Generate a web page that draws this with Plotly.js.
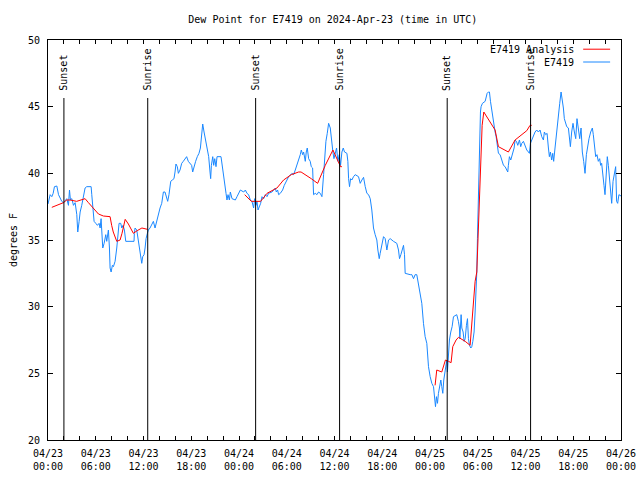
<!DOCTYPE html>
<html>
<head>
<meta charset="utf-8">
<script src="https://cdn.plot.ly/plotly-3.0.1.min.js"></script>
<style>html,body{margin:0;padding:0;background:#fff;}#chart{width:640px;height:480px;}</style>
</head>
<body>
<div id="chart"></div>
<script>
// Hours after 2024-04-23 00:00 UTC
var obsHours = [0,0.27,0.48,0.65,0.81,1.11,1.32,1.52,1.73,1.94,2.15,2.36,2.57,2.7,2.82,2.99,3.2,3.41,3.62,3.74,3.91,4.04,4.24,4.45,4.66,4.87,5.42,5.5,5.62,5.79,6.0,6.21,6.42,6.55,6.67,6.75,6.88,7.05,7.26,7.38,7.59,7.72,7.8,7.93,8.09,8.22,8.43,8.64,8.76,8.93,9.14,9.27,9.43,9.6,9.77,10.81,10.85,10.94,11.15,11.36,11.57,11.78,11.9,12.07,12.2,12.32,12.49,12.61,12.82,13.03,13.24,13.45,13.66,13.87,14.08,14.29,14.5,14.7,14.83,15.04,15.2,15.42,15.62,15.83,15.96,16.08,16.25,16.38,16.59,16.8,17.0,17.2,17.42,17.63,17.84,18.05,18.18,18.34,18.55,18.76,18.97,
19.15,19.36,19.44,19.61,19.78,19.98,20.19,20.36,20.44,20.53,20.7,20.82,20.95,21.11,21.24,21.74,21.87,22.03,22.2,22.37,22.49,22.62,22.79,22.91,23.12,23.54,23.75,23.96,24.17,24.59,24.8,25.0,25.21,25.42,25.63,25.84,25.97,26.13,26.26,26.39,26.55,26.72,26.89,27.1,27.31,27.52,27.72,28.14,28.56,28.69,28.85,28.98,29.19,29.48,29.69,29.9,30.07,30.24,30.65,30.86,31.07,31.28,31.49,31.7,31.83,32.0,32.12,32.24,32.33,32.45,32.58,32.75,32.95,33.08,33.25,33.37,33.58,33.79,34.0,34.21,34.42,34.63,34.75,34.92,35.09,35.26,35.47,35.59,35.67,35.8,35.93,36.09,36.26,36.43,36.6,36.76,36.93,37.1,37.26,
37.56,37.68,37.77,37.89,38.02,38.18,38.39,38.6,39.02,39.23,39.44,39.65,39.86,40.07,40.28,40.49,40.69,40.9,41.11,41.32,41.45,41.62,41.74,41.95,42.16,42.37,42.58,42.79,43.0,43.41,43.83,44.04,44.17,44.34,44.5,44.67,44.8,44.88,45.51,45.72,45.93,46.13,46.34,46.55,46.76,46.97,47.18,47.39,47.6,47.81,48.02,48.23,48.44,48.56,48.69,48.81,48.94,49.06,49.19,49.36,49.48,49.61,49.73,49.86,49.98,50.11,50.19,50.32,50.44,50.61,50.78,50.95,51.36,51.57,51.7,
51.75,51.91,52.0,52.16,52.29,52.42,52.58,52.71,52.83,52.96,53.13,53.25,53.38,53.54,53.67,53.8,53.88,53.96,54.05,54.09,54.17,54.26,54.34,54.42,54.59,54.93,55.05,55.18,55.34,55.47,55.6,55.76,55.89,56.01,56.18,56.31,56.47,56.6,56.81,57.02,57.23,57.44,57.65,57.77,57.85,57.98,58.15,58.36,58.57,58.69,58.86,59.03,59.24,59.4,59.53,59.74,59.95,60.16,60.37,60.49,60.62,60.78,60.99,61.2,61.41,61.62,61.83,62.04,62.25,62.37,62.54,62.71,62.88,63.0,63.13,63.29,63.42,63.54,63.71,63.84,63.96,64.13,64.3,64.47,64.63,64.76,64.88,65.01,65.18,65.39,65.51,65.64,65.8,65.97,66.14,66.31,66.47,66.64,66.81,66.98,67.14,67.31,67.48,67.65,67.81,67.98,68.19,68.4,68.52,68.65,68.82,68.98,69.15,69.32,69.44,69.57,69.74,69.86,69.99,70.11,70.28,70.41,70.53,70.7,70.83,71.0,71.16,71.33,71.45,71.58,71.74,72.0];
var obsValues = [37.7,38.4,38.25,38.5,39.0,39.05,38.4,38.1,37.9,37.8,38.0,38.1,37.6,38.75,38.0,38.1,37.6,37.8,36.9,35.6,36.4,37.1,37.6,38.4,38.9,39.0,39.0,38.4,37.4,36.4,36.25,36.1,36.25,35.9,36.6,35.6,34.4,34.75,35.4,34.9,35.75,34.4,32.9,32.6,33.1,33.0,33.4,34.4,35.0,36.25,36.25,35.9,36.1,35.75,34.9,34.9,35.5,35.9,35.75,35.0,34.1,33.25,33.75,33.9,34.4,35.1,35.5,35.75,35.9,36.1,36.4,35.9,36.4,37.1,37.4,37.75,38.6,38.6,38.25,37.9,38.4,39.4,39.5,39.6,40.1,40.7,40.5,40.0,40.25,40.75,40.9,41.1,41.25,40.9,40.7,40.6,40.1,40.5,40.9,41.25,41.5,
41.9,43.25,43.7,43.1,42.5,41.9,41.25,40.1,39.6,40.6,41.25,40.6,41.1,40.5,41.25,41.25,40.6,39.9,39.1,38.5,38.0,38.4,38.0,38.6,38.1,38.0,38.25,38.5,38.75,38.6,38.75,38.5,38.4,38.0,37.9,37.4,38.1,37.6,37.9,37.25,37.5,37.75,38.25,38.1,38.4,38.25,38.5,38.6,38.9,38.6,38.75,38.4,38.5,38.75,39.1,39.4,39.6,39.75,40.0,39.9,40.25,40.6,41.1,41.4,41.75,41.4,41.6,41.0,40.9,41.6,41.9,41.1,40.9,40.5,40.4,38.4,38.5,38.4,38.6,38.5,38.25,39.9,41.4,42.4,43.0,43.75,43.4,42.6,42.1,41.6,41.1,41.6,41.9,40.9,41.4,40.6,41.6,41.9,41.6,
41.5,40.9,39.6,39.0,39.6,39.5,39.75,39.9,39.75,39.25,39.5,39.7,39.0,38.5,38.4,38.1,37.25,35.9,35.4,35.0,34.25,33.6,34.0,34.75,35.25,35.1,34.25,35.0,35.1,34.9,34.75,34.25,33.6,33.9,34.25,34.6,33.9,32.5,32.4,32.4,32.1,32.4,32.4,31.75,31.0,30.25,28.75,27.75,27.25,25.5,24.75,24.25,24.0,23.4,22.5,23.25,22.75,23.5,24.1,24.5,24.0,23.5,24.5,25.0,25.5,26.0,25.1,26.5,27.5,28.1,28.5,29.25,29.4,28.9,28.4,
27.6,29.4,28.4,28.1,27.4,27.6,28.6,29.1,27.6,27.1,26.9,27.0,27.4,28.1,29.6,30.9,32.6,35.1,37.6,39.1,41.6,43.6,44.6,45.0,45.25,45.4,45.75,46.0,46.1,46.1,45.4,44.75,44.1,43.5,43.1,42.75,42.1,41.5,41.4,41.0,40.6,40.5,40.25,40.1,40.6,41.25,41.0,41.4,41.9,42.5,42.4,42.1,42.5,42.0,42.25,42.4,42.1,41.75,41.6,41.5,42.25,42.5,42.7,43.1,43.25,43.1,43.25,42.75,42.5,43.1,42.9,43.0,41.9,41.25,41.6,41.0,41.5,40.9,41.9,42.75,43.6,44.4,45.25,46.1,45.6,44.9,44.1,43.75,43.5,43.4,42.9,42.0,43.1,43.75,43.1,42.6,44.1,43.25,42.6,43.4,41.6,40.9,40.0,41.4,42.1,42.6,43.1,43.4,42.9,42.1,41.25,41.4,40.9,41.1,40.6,40.75,40.0,39.1,38.4,39.9,41.25,40.6,39.9,38.4,37.75,39.4,40.1,40.5,37.9,37.75,38.4,38.3];

var anaHours = [0.48,0.9,1.3,1.94,2.36,2.78,3.6,4.24,4.66,5.08,5.5,5.9,6.34,6.96,7.8,8.0,8.2,8.64,9.06,9.3,9.7,10.1,10.73,11.2,11.8,12.5,
18.0,
24.71,25.55,26.1,26.72,27.52,28.77,29.6,30.57,31.49,31.8,33.08,33.88,34.84,35.8,36.76,36.93,
42.0,
48.64,48.85,49.48,49.82,49.94,50.32,50.65,50.86,51.28,51.58,52.42,53.04,53.25,53.67,53.88,54.09,54.3,54.55,54.76,55.76,56.18,56.6,57.65,57.85,58.69,59.53,60.16,60.57,60.78];
var anaValues = [37.45,37.55,37.7,37.8,38.0,38.0,37.9,38.0,38.1,37.8,37.5,37.2,36.95,36.8,36.75,36.1,35.6,34.9,35.0,35.5,36.55,36.2,35.5,35.7,35.9,35.8,
null,
38.4,37.9,37.9,37.9,38.5,38.9,39.5,39.9,40.1,40.1,39.6,39.25,40.6,41.75,40.5,40.5,
null,
24.1,25.25,25.1,25.75,26.0,25.9,25.8,27.0,27.5,27.7,27.4,27.1,28.6,31.9,32.6,35.9,40.4,43.6,44.6,43.6,43.25,42.0,41.7,41.6,42.5,42.9,43.2,43.6,43.6];

var eventHours = [2.0, 12.53, 26.09, 36.64, 50.16, 60.64];
var eventLabels = ["Sunset","Sunrise","Sunset","Sunrise","Sunset","Sunrise"];

var seriesNames = ["E7419 Analysis", "E7419"];
var seriesColors = ["#ff0000", "#1a88ff"];

var BASE = Date.UTC(2024, 3, 23, 0, 0, 0);
function toDate(h) {
  if (h === null) return null;
  return new Date(BASE + Math.round(h * 3600000)).toISOString().replace('T', ' ').slice(0, 19);
}

var FONT = "'DejaVu Sans Mono', 'Liberation Mono', monospace";

var traces = [
  {x: obsHours.map(toDate), y: obsValues, type: 'scatter', mode: 'lines', name: seriesNames[1],
   line: {color: seriesColors[1], width: 1}, connectgaps: false},
  {x: anaHours.map(toDate), y: anaValues, type: 'scatter', mode: 'lines', name: seriesNames[0],
   line: {color: seriesColors[0], width: 1}, connectgaps: false}
];

var shapes = [];
var annotations = [];
eventHours.forEach(function (h, i) {
  shapes.push({type: 'line', xref: 'x', yref: 'paper', x0: toDate(h), x1: toDate(h), y0: 0, y1: 0.855,
    line: {color: '#000', width: 1}});
  annotations.push({xref: 'x', yref: 'paper', x: toDate(h), y: 0.868, yanchor: 'bottom', xanchor: 'center',
    text: eventLabels[i], textangle: -90, showarrow: false, font: {family: FONT, size: 10, color: '#000'}});
});

// legend drawn in paper space (top right)
var legY = [0.977, 0.945];
seriesNames.forEach(function (n, i) {
  annotations.push({xref: 'paper', yref: 'paper', x: 0.922, y: legY[i], xanchor: 'right', yanchor: 'middle',
    text: n, showarrow: false, font: {family: FONT, size: 10, color: '#000'}});
  shapes.push({type: 'line', xref: 'paper', yref: 'paper', x0: 0.934, x1: 0.981, y0: legY[i], y1: legY[i],
    line: {color: seriesColors[i], width: 1}});
});

var layout = {
  width: 640, height: 480,
  margin: {l: 48, r: 19, t: 40, b: 40, pad: 0},
  paper_bgcolor: '#fff', plot_bgcolor: '#fff',
  showlegend: false,
  font: {family: FONT, size: 10, color: '#000'},
  title: {text: 'Dew Point for E7419 on 2024-Apr-23 (time in UTC)', x: 0.52, xanchor: 'center', y: 0.96, yanchor: 'middle',
    font: {family: FONT, size: 10, color: '#000'}},
  xaxis: {
    type: 'date',
    range: [toDate(0), toDate(72)],
    dtick: 6 * 3600000, tick0: toDate(0),
    tickformat: '%m/%d<br>%H:%M',
    ticks: 'inside', ticklen: 4, tickcolor: '#000', tickwidth: 1,
    minor: {dtick: 2 * 3600000, ticks: 'inside', ticklen: 4, tickcolor: '#000', tickwidth: 1, showgrid: false},
    showline: true, linecolor: '#000', linewidth: 1, mirror: 'ticks',
    showgrid: false, zeroline: false,
    tickfont: {family: FONT, size: 10, color: '#000'},
    ticklabelstandoff: 4
  },
  yaxis: {
    range: [20, 50], dtick: 5, tick0: 20,
    ticks: 'inside', ticklen: 5, tickcolor: '#000', tickwidth: 1,
    showline: true, linecolor: '#000', linewidth: 1, mirror: 'ticks',
    showgrid: false, zeroline: false,
    tickfont: {family: FONT, size: 10, color: '#000'},
    ticklabelstandoff: 5,
    title: {text: 'degrees F', font: {family: FONT, size: 10, color: '#000'}, standoff: 8}
  },
  shapes: shapes,
  annotations: annotations
};

Plotly.newPlot('chart', traces, layout, {staticPlot: true, displayModeBar: false});
</script>
</body>
</html>
